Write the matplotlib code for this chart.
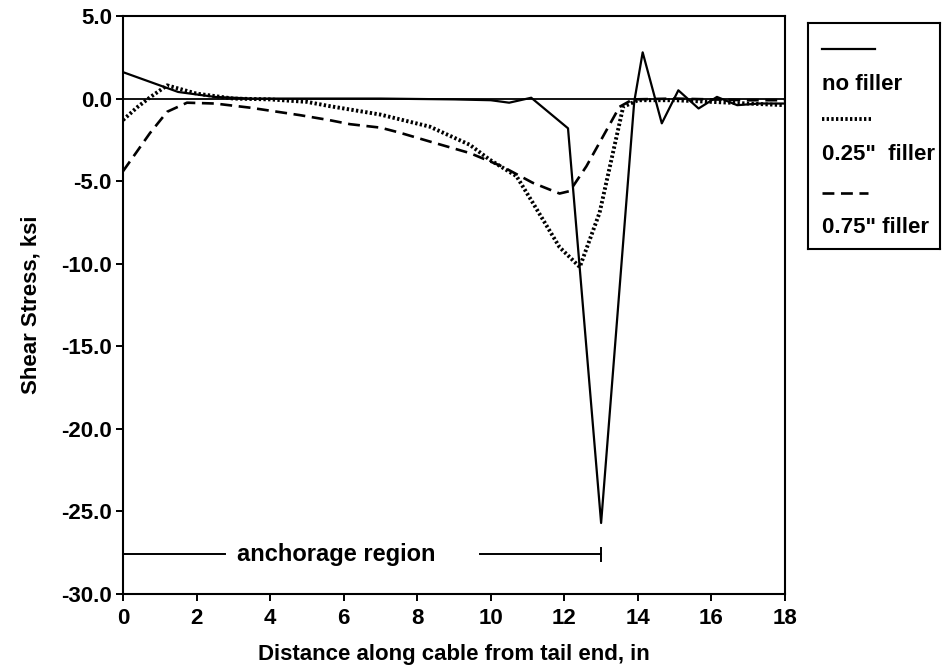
import matplotlib
matplotlib.use("Agg")
import matplotlib.pyplot as plt

plt.rcParams['font.family'] = ['Liberation Sans', 'DejaVu Sans']
plt.rcParams['font.weight'] = 'bold'

# ---- data ----
x_none = [0, 1.5, 2.5, 3.5, 5, 7, 9, 10, 10.5, 11.1, 12.1, 13.0, 13.9, 14.13, 14.65, 15.1, 15.65, 16.15, 16.7, 17.3, 18]
y_none = [1.6, 0.4, 0.1, 0.0, 0.0, 0.0, -0.05, -0.1, -0.25, 0.05, -1.8, -25.7, -0.2, 2.8, -1.5, 0.5, -0.6, 0.1, -0.4, -0.3, -0.3]

x_025 = [0, 0.4, 0.75, 1.2, 2, 3, 4, 5, 5.6, 7.0, 8.34, 9.43, 9.97, 10.7, 11.14, 11.87, 12.42, 12.96, 13.4, 13.6, 14, 15, 16, 17, 18]
y_025 = [-1.3, -0.5, 0.1, 0.8, 0.3, 0.0, -0.05, -0.2, -0.45, -0.97, -1.7, -2.8, -3.7, -4.7, -6.3, -9.0, -10.2, -6.9, -2.5, -0.5, -0.1, -0.1, -0.2, -0.3, -0.4]

x_075 = [0, 0.35, 0.73, 1.2, 1.74, 2.5, 3.45, 4.8, 5.6, 6.17, 7.0, 7.5, 8.34, 9.43, 10.3, 11.14, 11.87, 12.15, 12.6, 13.05, 13.5, 13.86, 15, 16, 17, 18]
y_075 = [-4.4, -3.3, -2.1, -0.8, -0.25, -0.3, -0.55, -1.0, -1.3, -1.55, -1.76, -2.05, -2.6, -3.3, -4.1, -5.1, -5.75, -5.6, -4.1, -2.3, -0.5, -0.05, 0.0, -0.05, -0.1, -0.1]

x_ticks = [0, 2, 4, 6, 8, 10, 12, 14, 16, 18]
y_ticks = [5.0, 0.0, -5.0, -10.0, -15.0, -20.0, -25.0, -30.0]
y_tick_labels = ["5.0", "0.0", "-5.0", "-10.0", "-15.0", "-20.0", "-25.0", "-30.0"]

anchor_left = [0, 2.77]
anchor_right = [9.7, 13.0]
anchor_y = -27.6
anchor_text_x = 5.8

labels = ["no filler", "0.25\"  filler", "0.75\" filler"]

# ---- figure ----
fig = plt.figure(figsize=(9.42, 6.72), dpi=100)
ax = fig.add_axes([123/942, 78/672, 662/942, 578/672])

ax.axhline(0, color='black', lw=1.3, zorder=1)
ax.plot(x_none, y_none, color='black', lw=1.6, ls='-', zorder=3)
ax.plot(x_025, y_025, color='black', lw=2.8, ls=(0, (0.6, 0.6)), zorder=3)
ax.plot(x_075, y_075, color='black', lw=1.9, ls=(0, (4.5, 2.5)), zorder=3)

# anchorage region annotation
ax.plot(anchor_left, [anchor_y, anchor_y], color='black', lw=1.4)
ax.plot(anchor_right, [anchor_y, anchor_y], color='black', lw=1.4)
ax.plot([anchor_right[1], anchor_right[1]], [anchor_y - 0.4, anchor_y + 0.4], color='black', lw=1.4)
ax.text(anchor_text_x, anchor_y, "anchorage region", ha='center', va='center',
        fontsize=17, fontweight='bold')

ax.set_xlim(0, 18)
ax.set_ylim(-30, 5)
ax.set_xticks(x_ticks)
ax.set_yticks(y_ticks)
ax.set_yticklabels(y_tick_labels)
ax.tick_params(axis='both', direction='out', length=5, width=1.4, labelsize=16, pad=3)
ax.tick_params(axis='x', pad=5)
for lab in ax.get_xticklabels() + ax.get_yticklabels():
    lab.set_fontweight('bold')
for s in ax.spines.values():
    s.set_linewidth(1.5)

ax.set_xlabel("Distance along cable from tail end, in", fontsize=16, fontweight='bold', labelpad=11)
ax.set_ylabel("Shear Stress, ksi", fontsize=16, fontweight='bold', labelpad=14)

# ---- legend box (samples above labels) ----
lax = fig.add_axes([808/942, (672-249)/672, 132/942, 226/672])
lax.set_xlim(0, 1)
lax.set_ylim(0, 1)
lax.set_xticks([])
lax.set_yticks([])
for s in lax.spines.values():
    s.set_linewidth(1.5)
styles = [dict(lw=1.6, ls='-'), dict(lw=2.8, ls=(0, (0.6, 0.6))), dict(lw=1.9, ls=(0, (4.5, 2.5)))]
sample_y = [1 - 0.115, 1 - 0.425, 1 - 0.752]
text_y = [1 - 0.274, 1 - 0.584, 1 - 0.903]
sample_x1 = [0.508, 0.485, 0.455]
for st, sy, ty, lab, x1 in zip(styles, sample_y, text_y, labels, sample_x1):
    lax.plot([0.106, x1], [sy, sy], color='black', **st)
    lax.text(0.106, ty, lab, ha='left', va='center', fontsize=16, fontweight='bold')

fig.savefig("out.png", dpi=100)
